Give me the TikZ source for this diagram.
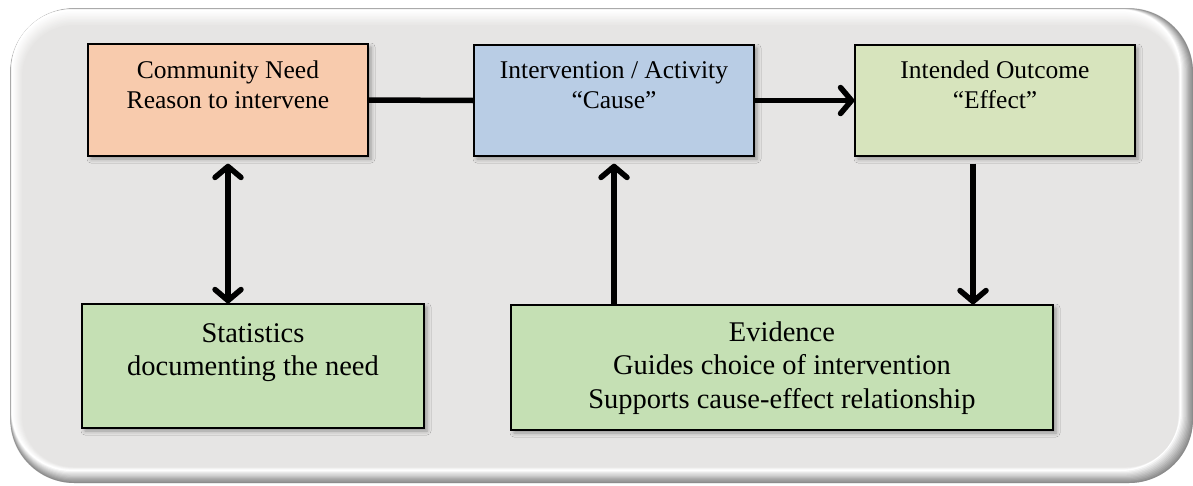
\documentclass[tikz,border=0pt]{standalone}
\usepackage{fontspec}
\setmainfont{Liberation Serif}
\usetikzlibrary{arrows.meta,shadows.blur,calc}
\definecolor{framegray}{RGB}{230,229,228}
\definecolor{edgegray}{RGB}{140,140,140}
\definecolor{needfill}{RGB}{248,203,173}
\definecolor{causefill}{RGB}{185,205,229}
\definecolor{effectfill}{RGB}{215,228,189}
\definecolor{evfill}{RGB}{197,224,180}
\tikzset{
  boxstyle/.style={draw=black, line width=1.4pt, inner sep=0pt,
    blur shadow={shadow xshift=3pt, shadow yshift=-3pt, shadow blur radius=4pt, shadow opacity=35}},
  smalltext/.style={inner sep=0pt, anchor=north, align=center, font=\fontsize{25.5}{30}\selectfont},
  bigtext/.style={inner sep=0pt, anchor=north, align=center, font=\fontsize{28.5}{33.5}\selectfont},
  link/.style={line width=5.5pt},
  tipend/.style={-{Straight Barb[length=11pt,width=26pt,round]}},
  tipboth/.style={{Straight Barb[length=11pt,width=26pt,round]}-{Straight Barb[length=11pt,width=26pt,round]}}
}
\begin{document}
\begin{tikzpicture}[x=1pt,y=-1pt]
\useasboundingbox (0,0) rectangle (1193,485);
% frame: outer bevel, dark edge fading to highlight
\fill[black!18, rounded corners=64pt] (10,8) rectangle (1193,483);
\foreach \k in {0,...,10}{
  \pgfmathsetmacro{\pc}{100-10*\k}
  \fill[edgegray!\pc!white, rounded corners=64pt-0.4pt*\k]
    (10.5+0.1*\k,8.5+0.1*\k) rectangle (1193-1.2*\k,483-1.2*\k);
}
% frame: highlight fading to interior
\foreach \k in {0,...,10}{
  \pgfmathsetmacro{\pc}{10*\k}
  \fill[framegray!\pc!white, rounded corners=60pt-0.8pt*\k]
    (12+1.0*\k,10+1.5*\k) rectangle (1180-0.2*\k,470-0.3*\k);
}
% boxes
\node[boxstyle, fill=needfill, minimum width=280pt, minimum height=112pt] (cn) at (228,100) {};
\node[boxstyle, fill=causefill, minimum width=280pt, minimum height=111pt] (iv) at (614,100.5) {};
\node[boxstyle, fill=effectfill, minimum width=280pt, minimum height=111pt] (io) at (995,100.5) {};
\node[boxstyle, fill=evfill, minimum width=342pt, minimum height=124pt] (st) at (253,366) {};
\node[boxstyle, fill=evfill, minimum width=542pt, minimum height=125pt] (ev) at (782,367.5) {};
% texts
\node[smalltext] (cnt) at (228,57) {\strut Community Need\\Reason to intervene};
\node[smalltext] (ivt) at (614,57) {\strut Intervention / Activity\\“Cause”};
\node[smalltext] (iot) at (995,57) {\strut Intended Outcome\\“Effect”};
\node[bigtext] (stt) at (253,318.5) {\strut Statistics\\documenting the need};
\node[bigtext] (evt) at (782,317.5) {\strut Evidence\\Guides choice of intervention\\Supports cause-effect relationship};
% connectors
\draw[link] (cn.east) -- (iv.west);
\draw[link, tipend] (iv.east) -- (io.west);
\draw[link, tipboth, shorten <=7pt] (cn.south) -- (cn.south |- st.north);
\draw[link, tipend, shorten >=7pt] (ev.north -| iv.south) -- (iv.south);
\coordinate (iob) at ($(io.south)+(-22,0)$);
\draw[link, tipend, shorten <=7pt] (iob) -- (iob |- ev.north);
\end{tikzpicture}
\end{document}
